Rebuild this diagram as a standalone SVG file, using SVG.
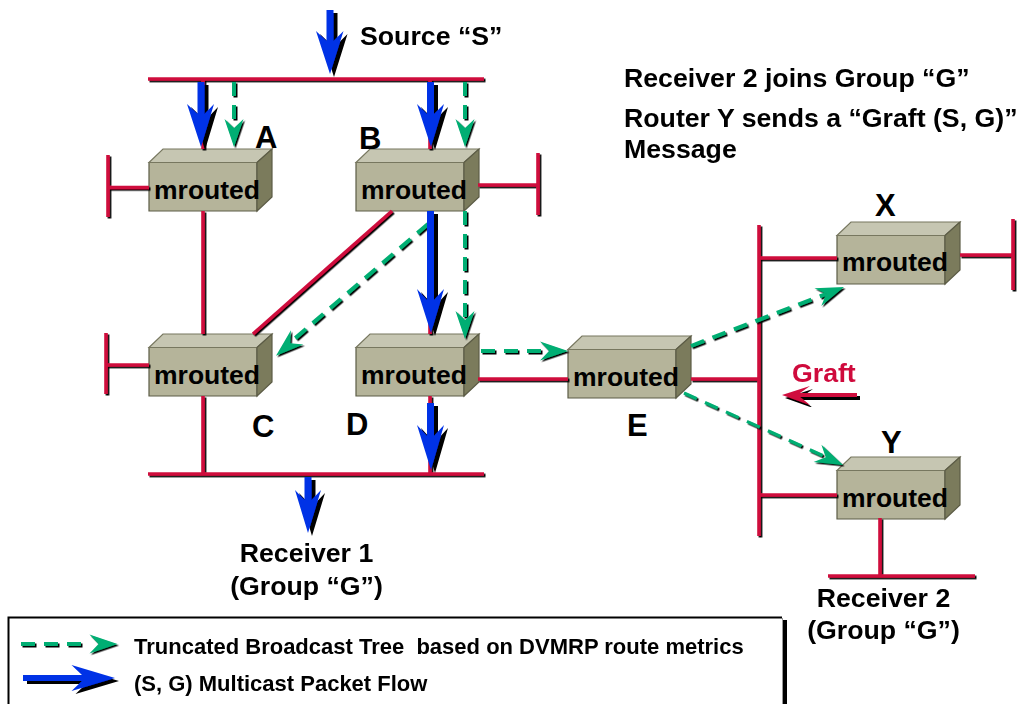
<svg xmlns="http://www.w3.org/2000/svg" xmlns:xlink="http://www.w3.org/1999/xlink" width="1023" height="704" viewBox="0 0 1023 704">
<style>
text{font-family:"Liberation Sans",Arial,sans-serif;font-weight:700;fill:#000}
.mr{font-size:26.5px}
.ltr{font-size:31px}
.lbl{font-size:26.7px}
.leg{font-size:22px;white-space:pre}
.front{fill:#b5b49a;stroke:#5c5c46;stroke-width:1.2}
.top{fill:#c6c6b2;stroke:#77775f;stroke-width:1.2}
.side{fill:#7b7b5c;stroke:#5c5c46;stroke-width:1.2}
.red{fill:none;stroke:#cf0a3c;stroke-width:3.6}
.green{fill:none;stroke:#00ae73;stroke-width:4;stroke-dasharray:14 9}
.ghead{fill:#00ae73}
.blue{fill:#0433e6}
</style>
<defs>
<filter id="s1" x="-10%" y="-10%" width="120%" height="120%" filterUnits="objectBoundingBox"><feDropShadow dx="1.5" dy="1.5" stdDeviation="0" flood-color="#000"/></filter>
<filter id="s2" x="-10%" y="-10%" width="120%" height="120%"><feDropShadow dx="4" dy="3" stdDeviation="0" flood-color="#000"/></filter>
<filter id="s3" x="-10%" y="-10%" width="120%" height="120%"><feDropShadow dx="3" dy="3" stdDeviation="0" flood-color="#000"/></filter>
<path id="gh" d="M0 0L-28 -9.5L-19 0L-28 9.5Z"/>
<g id="box">
<polygon class="front" points="0,13.5 108,13.5 108,62 0,62"/>
<polygon class="top" points="0,13.5 14,0 123,0 108,13.5"/>
<polygon class="side" points="108,13.5 123,0 123,48 108,62"/>
</g>
</defs>
<rect width="1023" height="704" fill="#fff"/>

<g id="node-A"><use href="#box" x="149" y="149"/><text class="mr" x="154" y="199">mrouted</text><text class="ltr" x="255" y="148">A</text></g>
<g id="node-B"><use href="#box" x="356" y="149"/><text class="mr" x="361" y="199">mrouted</text><text class="ltr" x="359" y="149">B</text></g>
<g id="node-C"><use href="#box" x="149" y="334"/><text class="mr" x="154" y="384">mrouted</text><text class="ltr" x="252" y="437">C</text></g>
<g id="node-D"><use href="#box" x="356" y="334"/><text class="mr" x="361" y="384">mrouted</text><text class="ltr" x="346" y="435">D</text></g>
<g id="node-E"><use href="#box" x="568" y="336"/><text class="mr" x="573" y="386">mrouted</text><text class="ltr" x="627" y="436">E</text></g>
<g id="node-X"><use href="#box" x="837" y="222"/><text class="mr" x="842" y="271">mrouted</text><text class="ltr" x="875" y="216">X</text></g>
<g id="node-Y"><use href="#box" x="837" y="457"/><text class="mr" x="842" y="507">mrouted</text><text class="ltr" x="881" y="453">Y</text></g>

<g id="connectors">
<g id="networks" class="red" filter="url(#s1)">
<path d="M148 79H484"/>
<path d="M148 474H484"/>
<path d="M203 79V149M430 79V149"/>
<path d="M203 211V334M203 396V473"/>
<path d="M430 211V334M430 396V473"/>
<path d="M108 155V217M108 187.500H149"/>
<path d="M106 333V394M106 365H149"/>
<path d="M478 185H538M538 153V215"/>
<path d="M392 211L253 334"/>
<path d="M478 379H568M691 379H759"/>
<path d="M759 225V536"/>
<path d="M759 258H837M759 495H837"/>
<path d="M960 255H1012M1013 219V290"/>
<path d="M880 518V576M828 576H975"/>
</g>
<g id="truncated-tree" filter="url(#s1)">
<path class="green" d="M234 82V122"/><use class="ghead" href="#gh" transform="translate(234,147) rotate(90)"/>
<path class="green" d="M465 82V122"/><use class="ghead" href="#gh" transform="translate(465,147) rotate(90)"/>
<path class="green" d="M465 211V318"/><use class="ghead" href="#gh" transform="translate(465,339) rotate(90)"/>
<path class="green" d="M428 224L292 341"/><use class="ghead" href="#gh" transform="translate(276,355.700) rotate(139)"/>
<path class="green" d="M481 351H552"/><use class="ghead" href="#gh" transform="translate(568,351)"/>
<path class="green" d="M691 346L826 294"/><use class="ghead" href="#gh" transform="translate(844,287) rotate(-21)"/>
<path class="green" style="stroke-width:3.200" d="M684 393L826 457"/><use class="ghead" href="#gh" transform="translate(843,465) rotate(24.400)"/>
</g>
<g id="packet-flow" class="blue" filter="url(#s2)">
<path d="M326.500 10H333.500V41L343.500 31L330 74L316 31L326.500 41Z"/>
<path d="M197.500 82H204.500V114L214 104L201 147L187 104L197.500 114Z"/>
<path d="M427 82H434V114L444 104L431 147L417 104L427 114Z"/>
<path d="M427 211H434V300L444 289L431 333L417 289L427 300Z"/>
<path d="M427 403H434V436L444 425L431 470L417 425L427 436Z"/>
<path d="M304.500 477H311.500V500L321 490L308 533L295 490L304.500 500Z"/>
</g>
<g id="graft" filter="url(#s3)"><path fill="#cf0a3c" d="M857 393V397H800L810 405L782 395L810 386L800 393Z"/></g>
</g>

<text class="lbl" x="360" y="45">Source “S”</text>
<text class="lbl" x="624" y="87">Receiver 2 joins Group “G”</text>
<text class="lbl" x="624" y="127">Router Y sends a “Graft (S, G)”</text>
<text class="lbl" x="624" y="158">Message</text>
<text class="lbl" x="306.500" y="562" text-anchor="middle">Receiver 1</text>
<text class="lbl" x="306.500" y="595" text-anchor="middle">(Group “G”)</text>
<text class="lbl" x="883.500" y="607" text-anchor="middle">Receiver 2</text>
<text class="lbl" x="883.500" y="639" text-anchor="middle">(Group “G”)</text>
<text class="lbl" x="792" y="382" style="fill:#cf0a3c">Graft</text>

<g id="legend">
<path d="M8.500 706V617.500H782" fill="none" stroke="#000" stroke-width="2"/>
<path d="M782.500 618V706" fill="none" stroke="#999" stroke-width="1"/>
<rect x="783" y="620" width="4" height="86" fill="#000"/>
<g filter="url(#s1)"><path class="green" d="M21 644H84"/><use class="ghead" href="#gh" transform="translate(117.500,644)"/></g>
<path class="blue" filter="url(#s2)" d="M23 675H82L71.500 665L115 678L71.500 691L82 681H23Z"/>
<text class="leg" x="134" y="654">Truncated Broadcast Tree  based on DVMRP route metrics</text>
<text class="leg" x="134" y="691">(S, G) Multicast Packet Flow</text>
</g>
</svg>
